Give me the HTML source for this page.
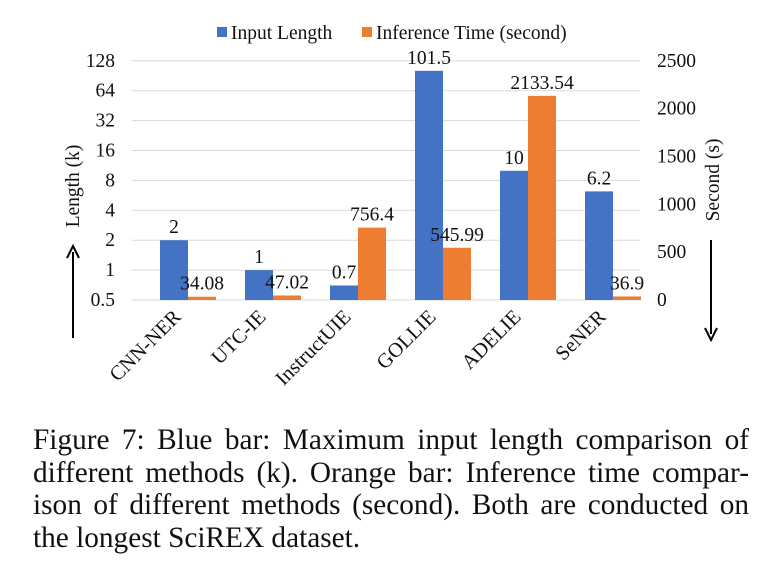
<!DOCTYPE html>
<html><head><meta charset="utf-8"><style>
body{margin:0;width:777px;height:584px;background:#fff;overflow:hidden;font-family:"Liberation Serif",serif}
#cap{position:absolute;left:33px;top:424px;width:716px;font-size:29.3px;line-height:32.7px;color:#111;font-family:"Liberation Serif",serif}
#cap .j{text-align:justify;text-align-last:justify;white-space:nowrap}
</style></head><body>
<svg id="chart" width="777" height="420" style="position:absolute;left:0;top:0" font-family="'Liberation Serif', serif" fill="#111"></svg>
<div id="cap">
<div class="j">Figure 7: Blue bar: Maximum input length comparison of</div>
<div class="j">different methods (k). Orange bar: Inference time compar-</div>
<div class="j">ison of different methods (second). Both are conducted on</div>
<div>the longest SciREX dataset.</div>
</div>
<script>
const categories=["CNN-NER","UTC-IE","InstructUIE","GOLLIE","ADELIE","SeNER"];
const lengthValues=[2,1,0.7,101.5,10,6.2];
const timeValues=[34.08,47.02,756.4,545.99,2133.54,36.9];
const leftTicks=[0.5,1,2,4,8,16,32,64,128];
const rightTicks=[0,500,1000,1500,2000,2500];
const NS="http://www.w3.org/2000/svg";
const svg=document.getElementById('chart');
const y0=300,step=29.9;
const yL=v=>y0-(Math.log2(v)+1)*step;
const yR=v=>y0-v/2500*(8*step);
const xC=i=>188+85*i;
function el(t,a,p){const e=document.createElementNS(NS,t);for(const k in a)e.setAttribute(k,a[k]);(p||svg).appendChild(e);return e;}
leftTicks.forEach(v=>{
 const g=el('line',{x1:132,x2:640,y1:yL(v),y2:yL(v),stroke:'#d9d9d9','stroke-width':1});
 
 
 const t=el('text',{x:115,y:yL(v)+6,'font-size':19.5,'text-anchor':'end'});t.textContent=v;
 
 
});
rightTicks.forEach(v=>{
 const t=el('text',{x:657,y:yR(v)+6,'font-size':19.5});t.textContent=v;
 
 
});
categories.forEach((c,i)=>{
 const x=xC(i);
 const b=el('rect',{x:x-28,y:yL(lengthValues[i]),width:28,height:y0-yL(lengthValues[i]),fill:'#4472c4'});
 
 
 const o=el('rect',{x:x,y:yR(timeValues[i]),width:28,height:y0-yR(timeValues[i]),fill:'#ed7d31'});
 
 
 const lt=el('text',{x:x-14,y:yL(lengthValues[i])-7,'font-size':19.5,'text-anchor':'middle'});lt.textContent=lengthValues[i];
 
 
 const tt=el('text',{x:x+14,y:yR(timeValues[i])-7,'font-size':19.5,'text-anchor':'middle'});tt.textContent=timeValues[i];
 
 
 const cl=el('text',{x:0,y:0,'font-size':20.5,'text-anchor':'end',transform:`translate(${x-6},318) rotate(-45)`});cl.textContent=c;
 
 
});
</script>
<svg width="777" height="420" style="position:absolute;left:0;top:0" font-family="'Liberation Serif', serif" fill="#111">
 <rect x="217" y="27" width="10" height="10" fill="#4472c4"/>
 <text x="231" y="39" font-size="19.5">Input Length</text>
 <rect x="362" y="27" width="10" height="10" fill="#ed7d31"/>
 <text x="376" y="39" font-size="19.5">Inference Time (second)</text>
 <text transform="translate(79,186) rotate(-90)" font-size="19.5" text-anchor="middle">Length (k)</text>
 <text transform="translate(719,180) rotate(-90)" font-size="19.5" text-anchor="middle">Second (s)</text>
 <g><line x1="73" y1="338" x2="73" y2="252" stroke="#000" stroke-width="2"/><path d="M67,258 L73,246 L79,258" fill="none" stroke="#000" stroke-width="2"/></g>
 <g><line x1="711" y1="240" x2="711" y2="334" stroke="#000" stroke-width="2"/><path d="M705,328 L711,340 L717,328" fill="none" stroke="#000" stroke-width="2"/></g>
</svg>
</body></html>
